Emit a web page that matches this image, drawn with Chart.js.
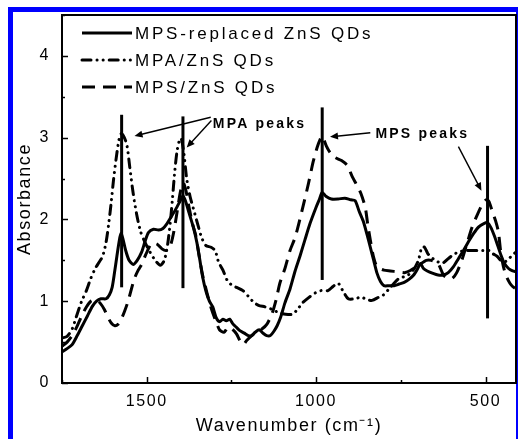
<!DOCTYPE html>
<html>
<head>
<meta charset="utf-8">
<script src="https://cdn.jsdelivr.net/npm/chart.js@4.4.1/dist/chart.umd.min.js"></script>
<style>
  html, body { margin: 0; padding: 0; background: #fff; }
  #wrap { width: 518px; height: 439px; }
</style>
</head>
<body>
<div id="wrap"><canvas id="myChart" width="518" height="439"></canvas></div>
<script>
// 波數 (cm-1) 與吸收度
const replacedX = [1750, 1735, 1720, 1705, 1690, 1675, 1660, 1648, 1635, 1620, 1610, 1602, 1595, 1588, 1581, 1576, 1570, 1562, 1552, 1540, 1528, 1515, 1505, 1495, 1480, 1465, 1452, 1440, 1428, 1415, 1402, 1393, 1385, 1375, 1362, 1352, 1343, 1335, 1325, 1315, 1305, 1295, 1285, 1275, 1265, 1255, 1245, 1235, 1225, 1212, 1200, 1190, 1180, 1168, 1157, 1146, 1135, 1125, 1115, 1105, 1092, 1077, 1062, 1047, 1033, 1018, 1000, 990, 982, 970, 955, 935, 915, 898, 885, 873, 861, 850, 840, 830, 820, 810, 800, 785, 770, 755, 740, 725, 712, 700, 692, 683, 672, 655, 640, 625, 610, 595, 580, 565, 550, 535, 520, 505, 494, 484, 474, 464, 454, 444, 432, 420, 410];
const replacedY = [0.38, 0.42, 0.47, 0.58, 0.70, 0.82, 0.94, 1.00, 1.03, 1.03, 1.08, 1.17, 1.35, 1.55, 1.74, 1.83, 1.76, 1.62, 1.50, 1.45, 1.50, 1.60, 1.73, 1.84, 1.88, 1.87, 1.89, 1.95, 2.03, 2.12, 2.22, 2.29, 2.22, 2.08, 1.90, 1.72, 1.50, 1.30, 1.12, 1.00, 0.93, 0.80, 0.75, 0.78, 0.76, 0.78, 0.72, 0.68, 0.64, 0.61, 0.58, 0.58, 0.62, 0.65, 0.61, 0.58, 0.58, 0.63, 0.70, 0.80, 0.98, 1.15, 1.37, 1.56, 1.75, 1.95, 2.15, 2.25, 2.33, 2.28, 2.25, 2.25, 2.26, 2.24, 2.23, 2.10, 1.98, 1.82, 1.66, 1.50, 1.34, 1.24, 1.19, 1.19, 1.19, 1.21, 1.23, 1.27, 1.32, 1.40, 1.46, 1.40, 1.37, 1.34, 1.32, 1.32, 1.35, 1.42, 1.52, 1.62, 1.73, 1.83, 1.91, 1.95, 1.96, 1.90, 1.80, 1.68, 1.56, 1.46, 1.40, 1.37, 1.36];

const mpaX = [1750, 1735, 1720, 1707, 1692, 1678, 1665, 1652, 1640, 1630, 1620, 1612, 1605, 1598, 1590, 1582, 1575, 1566, 1558, 1550, 1541, 1530, 1518, 1505, 1490, 1475, 1460, 1448, 1438, 1430, 1424, 1418, 1411, 1404, 1398, 1390, 1382, 1372, 1360, 1350, 1338, 1325, 1310, 1298, 1288, 1275, 1263, 1250, 1235, 1216, 1200, 1185, 1170, 1150, 1130, 1110, 1090, 1070, 1055, 1040, 1020, 1003, 985, 965, 950, 935, 920, 905, 885, 867, 850, 835, 815, 800, 785, 770, 755, 740, 725, 710, 698, 688, 680, 670, 655, 640, 625, 610, 595, 580, 560, 540, 520, 505, 490, 478, 466, 455, 445, 435, 422, 410];
const mpaY = [0.55, 0.57, 0.66, 0.82, 1.00, 1.13, 1.28, 1.40, 1.48, 1.55, 1.72, 1.95, 2.20, 2.48, 2.75, 2.97, 3.05, 3.00, 2.90, 2.64, 2.35, 2.07, 1.85, 1.72, 1.60, 1.50, 1.44, 1.50, 1.70, 1.98, 2.25, 2.55, 2.82, 2.96, 2.99, 2.80, 2.50, 2.28, 2.10, 1.95, 1.78, 1.68, 1.66, 1.62, 1.48, 1.38, 1.26, 1.20, 1.17, 1.13, 1.06, 0.99, 0.95, 0.93, 0.90, 0.86, 0.84, 0.84, 0.90, 0.98, 1.05, 1.10, 1.13, 1.13, 1.18, 1.22, 1.12, 1.03, 1.03, 1.05, 1.02, 1.01, 1.05, 1.08, 1.15, 1.22, 1.28, 1.30, 1.33, 1.40, 1.50, 1.66, 1.66, 1.58, 1.52, 1.48, 1.47, 1.52, 1.57, 1.60, 1.62, 1.62, 1.62, 1.62, 1.62, 1.58, 1.55, 1.50, 1.48, 1.50, 1.56, 1.60];

const mpsX = [1750, 1735, 1720, 1707, 1692, 1678, 1665, 1650, 1638, 1625, 1614, 1604, 1594, 1584, 1575, 1565, 1555, 1545, 1536, 1525, 1515, 1506, 1495, 1485, 1470, 1455, 1442, 1430, 1420, 1410, 1400, 1392, 1384, 1375, 1365, 1355, 1345, 1335, 1322, 1310, 1298, 1285, 1272, 1260, 1248, 1235, 1225, 1215, 1205, 1190, 1175, 1160, 1145, 1130, 1118, 1107, 1092, 1077, 1062, 1048, 1035, 1022, 1009, 997, 988, 982, 970, 959, 945, 925, 908, 893, 880, 868, 855, 848, 840, 831, 820, 800, 781, 760, 737, 720, 705, 690, 675, 660, 640, 624, 610, 598, 585, 570, 555, 540, 525, 510, 498, 490, 480, 470, 462, 455, 447, 438, 428, 420, 410];
const mpsY = [0.45, 0.50, 0.58, 0.68, 0.82, 0.93, 1.00, 1.02, 0.98, 0.90, 0.80, 0.73, 0.70, 0.72, 0.78, 0.88, 1.00, 1.15, 1.28, 1.38, 1.45, 1.54, 1.64, 1.71, 1.70, 1.64, 1.62, 1.68, 1.85, 2.10, 2.35, 2.45, 2.35, 2.15, 1.95, 1.80, 1.55, 1.32, 1.10, 0.92, 0.78, 0.65, 0.62, 0.68, 0.66, 0.60, 0.52, 0.47, 0.52, 0.58, 0.63, 0.66, 0.72, 0.85, 1.02, 1.22, 1.40, 1.62, 1.78, 2.00, 2.22, 2.45, 2.70, 2.88, 2.98, 3.02, 2.90, 2.82, 2.76, 2.72, 2.66, 2.52, 2.42, 2.32, 2.15, 1.95, 1.75, 1.55, 1.42, 1.38, 1.37, 1.36, 1.35, 1.38, 1.42, 1.46, 1.50, 1.50, 1.46, 1.32, 1.28, 1.28, 1.35, 1.50, 1.70, 1.90, 2.05, 2.18, 2.24, 2.22, 2.10, 1.98, 1.85, 1.60, 1.42, 1.30, 1.22, 1.18, 1.15];

// 標示峰位的垂直線
const peakX = [1574, 1393, 982, 494];
const peakLow = [1.17, 1.16, 1.26, 0.79];
const peakHigh = [3.28, 3.26, 3.37, 2.90];

const xTickValues = [500, 1000, 1500];
const yTickValues = [0, 1, 2, 3, 4];

const seriesLabels = ["MPS-replaced ZnS QDs", "MPA/ZnS QDs", "MPS/ZnS QDs"];

// 註解文字與箭頭（資料座標）
const notes = [
  { text: "MPA peaks", x: 1305, y: 3.12,
    arrows: [[1311, 3.25, 1536, 3.02], [1309, 3.21, 1382, 2.88]] },
  { text: "MPS peaks", x: 825, y: 3.0,
    arrows: [[840, 3.06, 959, 3.01], [580, 2.89, 512, 2.35]] },
];

const FONT = "'Liberation Sans', Arial, sans-serif";

function toPoints(xs, ys) {
  return xs.map((x, i) => ({ x: x, y: ys[i] }));
}

const curveBase = {
  borderColor: "#000",
  backgroundColor: "#000",
  borderWidth: 3,
  pointRadius: 0,
  tension: 0.25,
  fill: false,
};

const datasets = [
  Object.assign({}, curveBase, {
    label: seriesLabels[0],
    data: toPoints(replacedX, replacedY),
  }),
  Object.assign({}, curveBase, {
    label: seriesLabels[1],
    data: toPoints(mpaX, mpaY),
    borderDash: [9, 6, 0.1, 6, 0.1, 6],
    borderCapStyle: "round",
  }),
  Object.assign({}, curveBase, {
    label: seriesLabels[2],
    data: toPoints(mpsX, mpsY),
    borderDash: [13, 8],
  }),
];

peakX.forEach((px, i) => {
  datasets.push(Object.assign({}, curveBase, {
    label: "",
    isPeak: true,
    tension: 0,
    data: [{ x: px, y: peakLow[i] }, { x: px, y: peakHigh[i] }],
  }));
});

function drawArrow(ctx, x1, y1, x2, y2) {
  const ang = Math.atan2(y2 - y1, x2 - x1);
  const len = 8, half = 3.5;
  ctx.beginPath();
  ctx.moveTo(x1, y1);
  ctx.lineTo(x2 - Math.cos(ang) * len * 0.8, y2 - Math.sin(ang) * len * 0.8);
  ctx.stroke();
  ctx.beginPath();
  ctx.moveTo(x2, y2);
  ctx.lineTo(x2 - Math.cos(ang) * len + Math.sin(ang) * half, y2 - Math.sin(ang) * len - Math.cos(ang) * half);
  ctx.lineTo(x2 - Math.cos(ang) * len - Math.sin(ang) * half, y2 - Math.sin(ang) * len + Math.cos(ang) * half);
  ctx.closePath();
  ctx.fill();
}

const decorPlugin = {
  id: "decor",
  beforeUpdate(chart) {
    chart.ctx.letterSpacing = "1.6px";
  },
  beforeDraw(chart) {
    const { ctx, width, height } = chart;
    ctx.save();
    ctx.fillStyle = "#fff";
    ctx.fillRect(0, 0, width, height);
    ctx.fillStyle = "#0000ff";
    ctx.fillRect(8, 7, width - 8, 5);
    ctx.fillRect(8, 7, 5, height - 7);
    ctx.fillRect(width - 2, 7, 2, height - 7);
    ctx.restore();
    ctx.letterSpacing = "1.6px";
  },
  afterDatasetsDraw(chart) {
    const { ctx, chartArea: a, scales } = chart;
    const sx = scales.x, sy = scales.y;
    ctx.save();

    // 外框
    ctx.strokeStyle = "#000";
    ctx.lineWidth = 2;
    ctx.strokeRect(a.left, a.top, a.right - a.left, a.bottom - a.top);

    // 向內的刻度
    ctx.lineWidth = 1.5;
    for (let v = 0; v <= 4.5; v += 0.5) {
      const y = Math.round(sy.getPixelForValue(v)) + 0.5;
      const len = v % 1 === 0 ? 6 : 3;
      ctx.beginPath(); ctx.moveTo(a.left, y); ctx.lineTo(a.left + len, y); ctx.stroke();
    }
    for (let v = 500; v <= 1750; v += 250) {
      const x = Math.round(sx.getPixelForValue(v)) + 0.5;
      const len = v % 500 === 0 ? 6 : 3;
      ctx.beginPath(); ctx.moveTo(x, a.bottom); ctx.lineTo(x, a.bottom - len); ctx.stroke();
    }

    // 圖例
    chart.data.datasets.filter(d => !d.isPeak).forEach((ds, i) => {
      const y = a.top + 18 + i * 27;
      ctx.save();
      ctx.strokeStyle = "#000";
      ctx.lineWidth = 3;
      ctx.lineCap = ds.borderCapStyle || "butt";
      ctx.setLineDash(ds.borderDash || []);
      ctx.beginPath();
      ctx.moveTo(a.left + 20, y);
      ctx.lineTo(a.left + 70, y);
      ctx.stroke();
      ctx.setLineDash([]);
      ctx.fillStyle = "#000";
      ctx.font = "17px " + FONT;
      ctx.letterSpacing = "2.8px";
      ctx.textAlign = "left";
      ctx.textBaseline = "alphabetic";
      ctx.fillText(ds.label, a.left + 73, y + 6);
      ctx.restore();
    });

    // 註解
    ctx.fillStyle = "#000";
    ctx.strokeStyle = "#000";
    ctx.lineWidth = 1.4;
    notes.forEach(n => {
      ctx.save();
      ctx.font = "bold 14px " + FONT;
      ctx.letterSpacing = "2.2px";
      ctx.textAlign = "left";
      ctx.textBaseline = "alphabetic";
      ctx.fillText(n.text, sx.getPixelForValue(n.x), sy.getPixelForValue(n.y));
      ctx.restore();
      n.arrows.forEach(ar => {
        drawArrow(ctx,
          sx.getPixelForValue(ar[0]), sy.getPixelForValue(ar[1]),
          sx.getPixelForValue(ar[2]), sy.getPixelForValue(ar[3]));
      });
    });
    ctx.restore();
  },
};

Chart.defaults.font.family = FONT;
Chart.defaults.color = "#000";

const ctx = document.querySelector("#myChart").getContext("2d");
new Chart(ctx, {
  type: "line",
  data: { datasets: datasets },
  plugins: [decorPlugin],
  options: {
    responsive: false,
    animation: false,
    devicePixelRatio: 1,
    layout: { padding: { left: 0, top: 15, right: 2, bottom: 0 } },
    plugins: {
      legend: { display: false },
      tooltip: { enabled: false },
    },
    scales: {
      x: {
        type: "linear",
        reverse: true,
        min: 410,
        max: 1750,
        afterBuildTicks: s => { s.ticks = xTickValues.map(v => ({ value: v })); },
        afterFit: s => {
          s.height = 56;
          s.paddingLeft = 0;
          s.paddingRight = 0;
        },
        grid: { display: false, drawTicks: false },
        border: { display: false },
        ticks: { padding: 9, font: { size: 16 }, maxRotation: 0, callback: v => String(v) },
        title: {
          display: true,
          text: "Wavenumber (cm⁻¹)",
          font: { size: 18 },
          padding: { top: 0, bottom: 2 },
        },
      },
      y: {
        type: "linear",
        min: 0,
        max: 4.5,
        afterBuildTicks: s => { s.ticks = yTickValues.map(v => ({ value: v })); },
        afterFit: s => {
          s.width = 62;
          s.paddingTop = 0;
          s.paddingBottom = 0;
        },
        grid: { display: false, drawTicks: false },
        border: { display: false },
        ticks: { padding: 12, font: { size: 16 }, callback: v => String(v) },
        title: {
          display: true,
          text: "Absorbance",
          font: { size: 18 },
          padding: { top: 14, bottom: 0 },
        },
      },
    },
  },
});
</script>
</body>
</html>
